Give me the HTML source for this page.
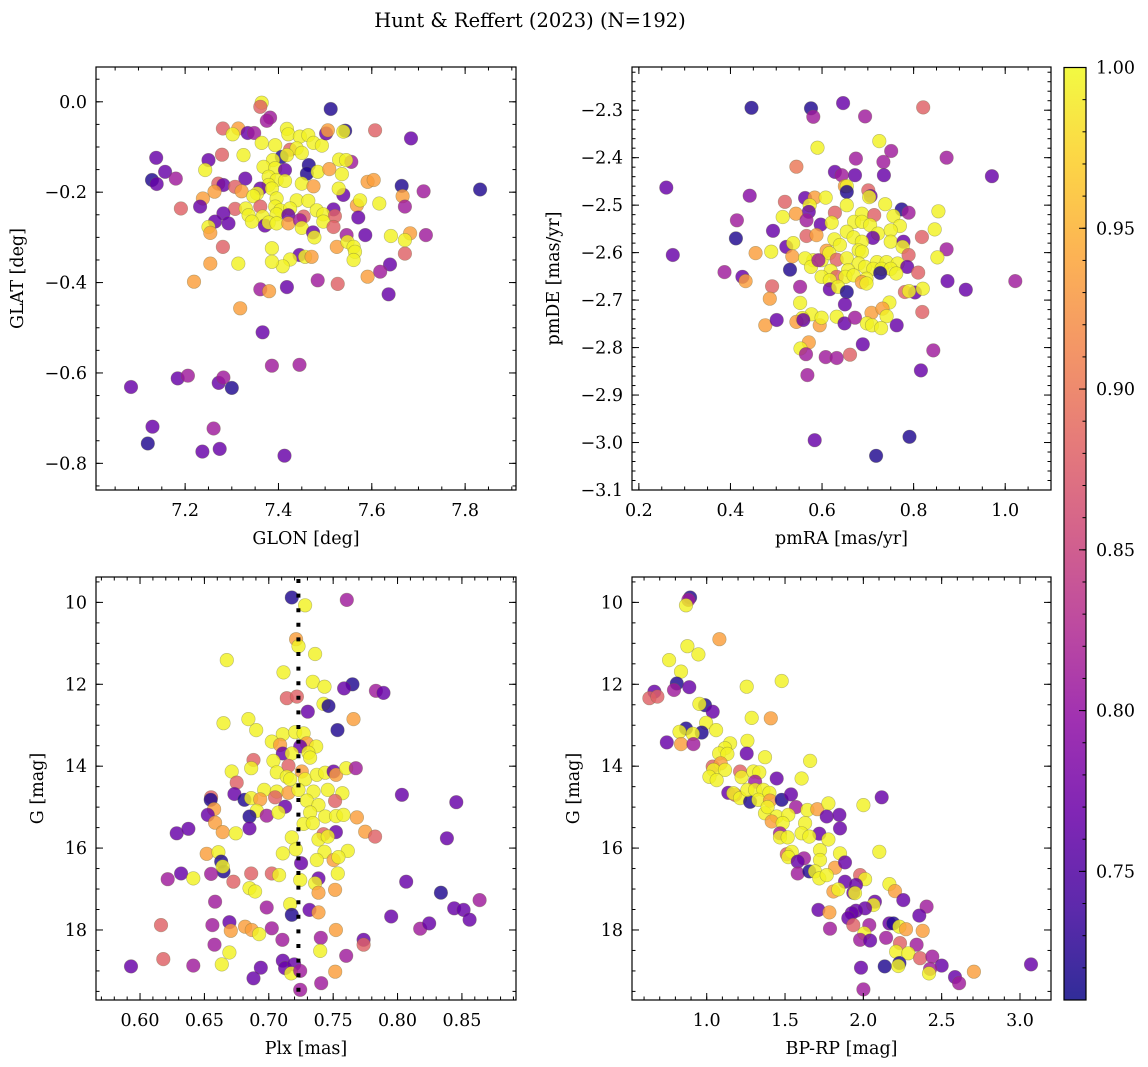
<!DOCTYPE html>
<html><head><meta charset="utf-8"><title>Hunt &amp; Reffert (2023)</title>
<style>
html,body{margin:0;padding:0;background:#fff;}
svg{display:block;font-family:"DejaVu Serif","Liberation Serif",serif;}
</style></head>
<body>
<svg id="fig" width="1148" height="1067" viewBox="0 0 1148 1067" xmlns="http://www.w3.org/2000/svg">
<defs>
<linearGradient id="plasmaGrad" x1="0" y1="1" x2="0" y2="0">
<stop offset="0" stop-color="#0d0887"/><stop offset="0.1" stop-color="#41049d"/><stop offset="0.2" stop-color="#6a00a8"/><stop offset="0.3" stop-color="#8f0da4"/><stop offset="0.4" stop-color="#b12a90"/><stop offset="0.5" stop-color="#cc4778"/><stop offset="0.6" stop-color="#e16462"/><stop offset="0.7" stop-color="#f2844b"/><stop offset="0.8" stop-color="#fca636"/><stop offset="0.9" stop-color="#fcce25"/><stop offset="1" stop-color="#f0f921"/>
</linearGradient>
</defs>
<text x="530" y="27" font-size="19.5" text-anchor="middle">Hunt &amp; Reffert (2023) (N=192)</text>
</svg>
<script>
// ---- data: [x, y, membership probability] ----
const skyPoints = [[7.364,-0.002,.995],[7.361,-0.011,.88],[7.512,-0.016,.72],[7.382,-0.035,.81],[7.375,-0.042,.81],[7.281,-0.059,.88],[7.314,-0.059,.935],[7.302,-0.072,.995],[7.334,-0.069,.765],[7.348,-0.069,.81],[7.418,-0.060,.995],[7.421,-0.072,.995],[7.446,-0.077,.995],[7.464,-0.074,.995],[7.475,-0.091,.995],[7.493,-0.097,.995],[7.502,-0.070,.765],[7.506,-0.063,.935],[7.543,-0.064,.72],[7.539,-0.066,.995],[7.607,-0.063,.88],[7.684,-0.081,.765],[7.364,-0.091,.995],[7.393,-0.096,.995],[7.425,-0.106,.88],[7.439,-0.103,.995],[7.450,-0.113,.995],[7.279,-0.117,.88],[7.325,-0.118,.995],[7.407,-0.122,.72],[7.418,-0.118,.995],[7.138,-0.124,.765],[7.250,-0.129,.765],[7.388,-0.129,.995],[7.530,-0.128,.995],[7.556,-0.133,.81],[7.545,-0.129,.995],[7.465,-0.140,.72],[7.157,-0.155,.765],[7.243,-0.151,.995],[7.368,-0.144,.995],[7.393,-0.147,.995],[7.414,-0.151,.765],[7.461,-0.159,.72],[7.484,-0.155,.995],[7.509,-0.149,.935],[7.536,-0.160,.995],[7.129,-0.173,.72],[7.139,-0.182,.765],[7.180,-0.170,.81],[7.271,-0.181,.88],[7.282,-0.184,.765],[7.329,-0.170,.765],[7.379,-0.166,.995],[7.396,-0.173,.995],[7.379,-0.184,.995],[7.414,-0.175,.995],[7.450,-0.181,.995],[7.475,-0.187,.935],[7.591,-0.177,.935],[7.604,-0.173,.935],[7.664,-0.186,.72],[7.711,-0.198,.81],[7.832,-0.194,.72],[7.307,-0.188,.88],[7.263,-0.199,.935],[7.321,-0.198,.935],[7.361,-0.192,.765],[7.386,-0.192,.995],[7.539,-0.206,.765],[7.529,-0.192,.995],[7.354,-0.203,.995],[7.346,-0.209,.995],[7.238,-0.214,.935],[7.396,-0.214,.995],[7.439,-0.218,.995],[7.464,-0.219,.995],[7.568,-0.229,.935],[7.575,-0.218,.995],[7.616,-0.225,.995],[7.666,-0.209,.935],[7.671,-0.232,.81],[7.191,-0.236,.88],[7.232,-0.232,.765],[7.307,-0.237,.88],[7.330,-0.236,.995],[7.336,-0.251,.995],[7.361,-0.232,.88],[7.393,-0.232,.995],[7.404,-0.240,.995],[7.425,-0.236,.995],[7.482,-0.240,.995],[7.518,-0.238,.765],[7.282,-0.247,.765],[7.366,-0.254,.995],[7.396,-0.249,.995],[7.421,-0.251,.765],[7.454,-0.254,.88],[7.496,-0.249,.995],[7.521,-0.253,.88],[7.571,-0.256,.765],[7.264,-0.265,.765],[7.293,-0.269,.765],[7.343,-0.265,.995],[7.371,-0.274,.765],[7.379,-0.267,.995],[7.396,-0.269,.995],[7.421,-0.269,.935],[7.446,-0.262,.81],[7.496,-0.265,.995],[7.518,-0.277,.88],[7.250,-0.277,.995],[7.254,-0.290,.935],[7.586,-0.295,.765],[7.641,-0.297,.995],[7.716,-0.295,.81],[7.450,-0.279,.995],[7.474,-0.289,.765],[7.477,-0.300,.995],[7.682,-0.291,.935],[7.671,-0.306,.995],[7.546,-0.295,.81],[7.281,-0.321,.88],[7.386,-0.324,.995],[7.525,-0.321,.935],[7.548,-0.310,.995],[7.561,-0.321,.995],[7.564,-0.332,.995],[7.671,-0.336,.88],[7.561,-0.350,.995],[7.445,-0.339,.765],[7.457,-0.343,.995],[7.471,-0.343,.935],[7.425,-0.349,.995],[7.409,-0.364,.995],[7.386,-0.354,.995],[7.314,-0.358,.995],[7.254,-0.358,.935],[7.639,-0.360,.765],[7.618,-0.376,.81],[7.219,-0.398,.935],[7.484,-0.395,.81],[7.527,-0.403,.88],[7.591,-0.387,.935],[7.636,-0.426,.765],[7.361,-0.415,.81],[7.380,-0.419,.935],[7.418,-0.410,.765],[7.318,-0.457,.935],[7.366,-0.510,.765],[7.386,-0.584,.81],[7.445,-0.582,.81],[7.084,-0.631,.765],[7.184,-0.612,.765],[7.206,-0.606,.81],[7.272,-0.622,.765],[7.282,-0.610,.81],[7.300,-0.633,.72],[7.130,-0.719,.765],[7.261,-0.723,.81],[7.120,-0.756,.72],[7.237,-0.774,.765],[7.274,-0.768,.765],[7.413,-0.783,.765]];
const pmPoints = [[0.446,-2.295,.72],[0.576,-2.296,.72],[0.581,-2.314,.81],[0.646,-2.285,.765],[0.694,-2.313,.81],[0.821,-2.294,.88],[0.590,-2.379,.995],[0.725,-2.365,.995],[0.751,-2.386,.81],[0.674,-2.402,.81],[0.734,-2.409,.81],[0.872,-2.400,.81],[0.544,-2.419,.9],[0.628,-2.430,.765],[0.643,-2.437,.81],[0.672,-2.437,.765],[0.735,-2.437,.765],[0.971,-2.439,.765],[0.260,-2.463,.765],[0.650,-2.460,.935],[0.654,-2.460,.995],[0.654,-2.472,.72],[0.701,-2.469,.88],[0.706,-2.481,.765],[0.703,-2.483,.995],[0.442,-2.480,.79],[0.563,-2.485,.765],[0.584,-2.484,.935],[0.608,-2.484,.995],[0.519,-2.493,.88],[0.573,-2.500,.995],[0.654,-2.500,.995],[0.738,-2.498,.995],[0.774,-2.509,.72],[0.789,-2.516,.81],[0.854,-2.513,.995],[0.571,-2.514,.765],[0.628,-2.516,.88],[0.687,-2.518,.995],[0.714,-2.521,.88],[0.414,-2.532,.81],[0.514,-2.525,.995],[0.543,-2.518,.935],[0.566,-2.532,.81],[0.597,-2.541,.765],[0.621,-2.537,.995],[0.670,-2.535,.995],[0.687,-2.535,.995],[0.705,-2.542,.995],[0.756,-2.523,.995],[0.770,-2.544,.995],[0.493,-2.554,.765],[0.722,-2.560,.995],[0.750,-2.553,.995],[0.846,-2.551,.995],[0.412,-2.570,.72],[0.566,-2.565,.88],[0.588,-2.563,.935],[0.627,-2.572,.995],[0.654,-2.556,.995],[0.669,-2.568,.995],[0.711,-2.569,.765],[0.818,-2.567,.88],[0.522,-2.588,.765],[0.537,-2.580,.995],[0.639,-2.584,.995],[0.687,-2.577,.995],[0.750,-2.577,.995],[0.778,-2.577,.765],[0.776,-2.588,.995],[0.680,-2.595,.995],[0.687,-2.598,.995],[0.872,-2.593,.81],[0.455,-2.601,.935],[0.489,-2.598,.995],[0.535,-2.608,.935],[0.581,-2.616,.995],[0.599,-2.616,.995],[0.610,-2.596,.935],[0.616,-2.601,.995],[0.632,-2.615,.88],[0.654,-2.612,.995],[0.789,-2.605,.88],[0.852,-2.610,.995],[0.563,-2.612,.995],[0.576,-2.630,.995],[0.592,-2.616,.81],[0.680,-2.623,.995],[0.694,-2.630,.995],[0.720,-2.620,.995],[0.741,-2.620,.995],[0.765,-2.623,.995],[0.387,-2.641,.81],[0.530,-2.636,.72],[0.619,-2.638,.995],[0.657,-2.637,.995],[0.712,-2.634,.995],[0.730,-2.634,.995],[0.750,-2.634,.995],[0.727,-2.643,.72],[0.786,-2.630,.765],[0.810,-2.642,.88],[0.426,-2.651,.765],[0.433,-2.660,.935],[0.599,-2.651,.995],[0.632,-2.651,.88],[0.617,-2.658,.995],[0.651,-2.651,.995],[0.669,-2.648,.995],[0.697,-2.655,.995],[0.762,-2.644,.995],[0.687,-2.662,.935],[0.697,-2.665,.995],[0.874,-2.660,.765],[1.022,-2.660,.81],[0.552,-2.672,.81],[0.491,-2.671,.88],[0.617,-2.677,.765],[0.635,-2.672,.995],[0.654,-2.683,.72],[0.781,-2.683,.88],[0.803,-2.684,.765],[0.790,-2.681,.995],[0.820,-2.676,.995],[0.914,-2.678,.765],[0.486,-2.697,.935],[0.552,-2.706,.995],[0.650,-2.709,.765],[0.747,-2.705,.995],[0.819,-2.725,.88],[0.708,-2.727,.935],[0.732,-2.718,.935],[0.741,-2.734,.995],[0.632,-2.735,.995],[0.577,-2.730,.995],[0.557,-2.738,.995],[0.476,-2.753,.935],[0.501,-2.742,.765],[0.544,-2.746,.935],[0.559,-2.742,.765],[0.595,-2.753,.935],[0.599,-2.737,.995],[0.649,-2.749,.765],[0.672,-2.737,.81],[0.698,-2.749,.995],[0.709,-2.753,.995],[0.729,-2.759,.995],[0.763,-2.753,.765],[0.571,-2.789,.935],[0.553,-2.802,.995],[0.565,-2.814,.81],[0.689,-2.793,.765],[0.608,-2.820,.81],[0.632,-2.822,.81],[0.661,-2.815,.88],[0.843,-2.806,.81],[0.816,-2.848,.765],[0.568,-2.858,.81],[0.584,-2.995,.765],[0.791,-2.988,.72],[0.718,-3.028,.72],[0.274,-2.605,.765]];
const plxPoints = [[0.7179,9.88,.72],[0.7606,9.94,.81],[0.7282,10.07,.995],[0.7212,10.90,.935],[0.7231,11.07,.995],[0.736,11.26,.995],[0.6674,11.41,.995],[0.7114,11.71,.995],[0.7342,11.94,.995],[0.7433,12.06,.995],[0.765,12.00,.72],[0.7585,12.10,.765],[0.7832,12.16,.81],[0.7891,12.21,.765],[0.714,12.34,.88],[0.7218,12.30,.88],[0.7425,12.48,.995],[0.7464,12.53,.72],[0.7303,12.67,.765],[0.7658,12.85,.935],[0.6648,12.95,.995],[0.6842,12.85,.995],[0.6902,13.12,.995],[0.7534,13.12,.72],[0.7109,13.22,.995],[0.7205,13.17,.995],[0.727,13.20,.995],[0.7023,13.40,.995],[0.7088,13.48,.935],[0.7295,13.44,.935],[0.7368,13.52,.995],[0.7244,13.52,.765],[0.7109,13.69,.765],[0.7179,13.69,.995],[0.7308,13.67,.995],[0.7321,13.79,.995],[0.6881,13.85,.88],[0.7036,13.87,.995],[0.7153,13.99,.88],[0.6863,14.05,.995],[0.6712,14.13,.995],[0.7062,14.15,.995],[0.714,14.26,.995],[0.7166,14.32,.995],[0.7256,14.13,.935],[0.7282,14.32,.995],[0.7373,14.21,.995],[0.7438,14.16,.995],[0.7503,14.13,.765],[0.7523,14.21,.935],[0.7601,14.05,.995],[0.7676,14.05,.81],[0.6751,14.40,.88],[0.6964,14.58,.995],[0.7062,14.62,.995],[0.7153,14.65,.935],[0.7231,14.58,.995],[0.7347,14.62,.995],[0.7458,14.58,.995],[0.7572,14.66,.995],[0.8034,14.70,.765],[0.6733,14.68,.765],[0.6552,14.76,.88],[0.6549,14.82,.72],[0.6811,14.82,.72],[0.6863,14.78,.995],[0.6933,14.81,.935],[0.7049,14.76,.88],[0.7295,14.84,.995],[0.7386,14.95,.995],[0.7515,14.85,.88],[0.8456,14.88,.765],[0.6575,15.05,.935],[0.7127,14.99,.765],[0.6907,15.09,.995],[0.6526,15.19,.765],[0.685,15.23,.72],[0.6984,15.21,.81],[0.7075,15.13,.995],[0.7321,15.13,.995],[0.7438,15.23,.995],[0.7523,15.22,.995],[0.758,15.19,.995],[0.7684,15.25,.935],[0.6583,15.38,.935],[0.727,15.41,.995],[0.7342,15.39,.995],[0.6285,15.64,.765],[0.6376,15.53,.765],[0.6642,15.61,.935],[0.6744,15.64,.995],[0.685,15.52,.765],[0.7425,15.66,.88],[0.7521,15.61,.765],[0.7749,15.60,.935],[0.7826,15.72,.88],[0.7179,15.74,.995],[0.7386,15.79,.995],[0.7458,15.72,.995],[0.8383,15.76,.765],[0.721,16.03,.995],[0.7109,16.13,.995],[0.7433,16.09,.995],[0.7614,16.07,.995],[0.6518,16.14,.935],[0.6609,16.10,.995],[0.7373,16.29,.995],[0.7503,16.29,.935],[0.7541,16.22,.995],[0.7251,16.37,.765],[0.663,16.33,.72],[0.6648,16.57,.72],[0.6642,16.45,.995],[0.6319,16.62,.765],[0.6215,16.76,.81],[0.6414,16.74,.995],[0.6552,16.63,.81],[0.6725,16.82,.88],[0.6863,16.62,.88],[0.7023,16.62,.88],[0.708,16.66,.995],[0.7244,16.78,.995],[0.7386,16.74,.765],[0.736,16.86,.995],[0.7536,16.62,.995],[0.8067,16.82,.765],[0.685,16.98,.995],[0.6894,17.06,.995],[0.7386,17.09,.935],[0.7515,17.02,.935],[0.8337,17.09,.72],[0.6583,17.31,.81],[0.8637,17.27,.81],[0.6984,17.45,.81],[0.7166,17.37,.995],[0.7179,17.63,.72],[0.7316,17.51,.765],[0.7386,17.57,.935],[0.844,17.47,.765],[0.8513,17.51,.765],[0.856,17.75,.765],[0.7951,17.67,.765],[0.6163,17.88,.88],[0.6562,17.88,.81],[0.6694,17.81,.765],[0.6705,18.02,.935],[0.6816,17.92,.935],[0.6868,18.00,.935],[0.6925,18.10,.995],[0.7023,17.96,.81],[0.7521,18.00,.935],[0.8176,17.97,.81],[0.8246,17.84,.765],[0.7106,18.24,.81],[0.7404,18.19,.81],[0.7736,18.24,.765],[0.7736,18.36,.88],[0.6578,18.36,.81],[0.6694,18.55,.995],[0.7399,18.51,.995],[0.7601,18.63,.81],[0.6181,18.71,.88],[0.6414,18.87,.81],[0.6635,18.84,.995],[0.593,18.89,.765],[0.6938,18.92,.765],[0.7109,18.75,.765],[0.7127,18.93,.765],[0.7197,18.84,.765],[0.7174,19.06,.995],[0.7244,19.00,.81],[0.7516,19.02,.935],[0.6881,19.18,.765],[0.7407,19.30,.81],[0.7244,19.46,.81]];
const cmdPoints = [[0.894,9.88,.72],[0.883,9.94,.81],[0.868,10.07,.995],[1.081,10.90,.935],[0.877,11.07,.995],[0.947,11.27,.995],[0.760,11.41,.995],[0.836,11.69,.995],[1.479,11.92,.995],[0.809,11.98,.72],[0.666,12.18,.765],[0.791,12.14,.81],[0.889,12.07,.765],[1.255,12.06,.995],[0.634,12.34,.88],[0.685,12.30,.88],[0.989,12.51,.72],[1.038,12.67,.765],[0.953,12.48,.995],[1.287,12.82,.995],[1.409,12.83,.935],[0.996,12.94,.995],[0.868,13.08,.72],[0.968,13.18,.72],[1.060,13.12,.995],[0.826,13.16,.995],[0.911,13.21,.995],[0.745,13.42,.765],[0.836,13.46,.935],[0.915,13.46,.81],[1.149,13.44,.995],[1.260,13.38,.995],[1.117,13.56,.995],[1.079,13.69,.995],[1.132,13.70,.995],[1.255,13.69,.765],[1.372,13.78,.995],[1.660,13.87,.995],[1.038,14.01,.88],[1.089,13.93,.935],[1.043,14.09,.995],[1.117,14.09,.995],[1.017,14.26,.995],[1.064,14.34,.995],[1.213,14.13,.88],[1.223,14.27,.995],[1.298,14.13,.995],[1.336,14.15,.995],[1.309,14.38,.81],[1.447,14.30,.765],[1.606,14.30,.995],[1.138,14.65,.765],[1.181,14.70,.88],[1.170,14.66,.995],[1.213,14.78,.995],[1.277,14.87,.72],[1.260,14.58,.995],[1.309,14.58,.995],[1.362,14.58,.995],[1.330,14.82,.995],[1.400,14.65,.995],[1.404,14.84,.935],[1.479,14.82,.72],[1.538,14.69,.765],[1.570,15.00,.81],[1.643,15.07,.995],[1.706,15.05,.935],[1.777,14.91,.995],[2.117,14.76,.765],[2.000,14.95,.995],[1.372,15.15,.995],[1.389,15.00,.995],[1.447,15.23,.995],[1.521,15.19,.995],[1.766,15.23,.765],[1.847,15.19,.765],[1.415,15.35,.935],[1.485,15.39,.995],[1.851,15.52,.765],[1.628,15.39,.995],[1.468,15.64,.81],[1.606,15.64,.995],[1.719,15.65,.765],[1.655,15.72,.995],[1.468,15.74,.995],[1.517,15.74,.995],[1.777,15.79,.995],[1.511,16.15,.88],[1.543,16.09,.995],[1.521,16.22,.995],[1.723,16.05,.995],[1.851,16.13,.995],[2.102,16.09,.995],[1.621,16.25,.81],[1.581,16.33,.765],[1.581,16.62,.81],[1.655,16.57,.72],[1.723,16.29,.995],[1.819,16.48,.935],[1.883,16.35,.765],[1.691,16.57,.995],[1.719,16.74,.995],[1.766,16.66,.995],[1.883,16.82,.765],[1.979,16.66,.88],[2.011,16.76,.995],[1.953,16.90,.765],[1.809,17.06,.935],[1.840,17.01,.995],[1.936,17.09,.765],[1.947,17.10,.995],[2.166,16.88,.995],[2.202,17.05,.935],[2.255,17.27,.765],[2.074,17.31,.765],[2.064,17.39,.995],[2.404,17.43,.81],[1.713,17.51,.765],[1.783,17.57,.935],[2.011,17.47,.765],[1.953,17.53,.765],[1.926,17.59,.765],[1.904,17.71,.765],[2.357,17.65,.765],[1.936,17.88,.88],[2.038,17.88,.81],[2.166,17.84,.765],[2.191,17.84,.72],[2.230,17.92,.995],[2.272,17.98,.935],[2.379,18.02,.935],[1.787,17.97,.81],[2.006,18.08,.995],[2.145,18.19,.81],[1.979,18.24,.81],[2.043,18.26,.765],[2.234,18.32,.88],[2.340,18.36,.81],[2.209,18.53,.995],[2.287,18.57,.995],[2.362,18.69,.88],[2.440,18.65,.81],[2.230,18.81,.72],[2.223,18.88,.995],[1.985,18.92,.765],[2.136,18.89,.72],[2.500,18.87,.765],[3.070,18.84,.765],[2.426,18.95,.81],[2.419,19.06,.995],[2.706,19.02,.935],[2.585,19.15,.765],[2.611,19.30,.81],[2.000,19.45,.81]];
const plxMedian = 0.723;
const cbarTicks = [0.75,0.80,0.85,0.90,0.95,1.00];
const cbarRange = [0.71, 1.0];

const NS = 'http://www.w3.org/2000/svg';
const svg = document.getElementById('fig');
const plasma = ['#0d0887','#41049d','#6a00a8','#8f0da4','#b12a90','#cc4778','#e16462','#f2844b','#fca636','#fcce25','#f0f921'];
function hex(c){return [parseInt(c.substr(1,2),16),parseInt(c.substr(3,2),16),parseInt(c.substr(5,2),16)];}
function cmap(v){
  let t=(v-cbarRange[0])/(cbarRange[1]-cbarRange[0]); t=Math.max(0,Math.min(1,t));
  const f=t*10, i=Math.min(9,Math.floor(f)), r=f-i;
  const a=hex(plasma[i]), b=hex(plasma[i+1]);
  return 'rgb('+a.map((x,k)=>Math.round(x+(b[k]-x)*r)).join(',')+')';
}
function el(tag, attrs, parent){
  const e=document.createElementNS(NS,tag);
  for(const k in attrs) e.setAttribute(k,attrs[k]);
  (parent||svg).appendChild(e); return e;
}
function fmt(v,dec){const s=Math.abs(v).toFixed(dec); return (v<0?'\u2212':'')+s;}
const FS = 17.5;

function panel(cfg){
  const g=el('g',{});
  
  
  const {x0,x1,y0,y1}=cfg.box;
  const sx=v=>x0+(v-cfg.xd[0])/(cfg.xd[1]-cfg.xd[0])*(x1-x0);
  const sy=v=>y1-(v-cfg.yd[0])/(cfg.yd[1]-cfg.yd[0])*(y1-y0);
  const clip='clip-'+cfg.name;
  const cp=el('clipPath',{id:clip},g); el('rect',{x:x0,y:y0,width:x1-x0,height:y1-y0},cp);
  const pg=el('g',{'clip-path':'url(#'+clip+')'},g);
  cfg.points.forEach(p=>{
    const c=el('circle',{cx:sx(p[0]).toFixed(1),cy:sy(p[1]).toFixed(1),r:6.8,fill:cmap(p[2]),'fill-opacity':0.82,stroke:'#6b6b40','stroke-opacity':0.45,'stroke-width':0.6},pg);
    
    
  });
  if(cfg.vline!==undefined){
    const l=el('line',{x1:sx(cfg.vline),x2:sx(cfg.vline),y1:y0+2,y2:y1,stroke:'#000','stroke-width':4,'stroke-dasharray':'4 10.6'},pg);
    
    
  }
  const tk=el('g',{stroke:'#000','stroke-width':1},g);
  function ticks(lo,hi,step){const a=Math.min(lo,hi),b=Math.max(lo,hi),out=[];for(let k=Math.ceil(a/step-1e-6);k<=Math.floor(b/step+1e-6);k++)out.push(k*step);return out;}
  ticks(cfg.xd[0],cfg.xd[1],cfg.xMinor).forEach(v=>{const x=sx(v);el('line',{x1:x,x2:x,y1:y1,y2:y1-3.5},tk);el('line',{x1:x,x2:x,y1:y0,y2:y0+3.5},tk);});
  ticks(cfg.yd[0],cfg.yd[1],cfg.yMinor).forEach(v=>{const y=sy(v);el('line',{x1:x0,x2:x0+3.5,y1:y,y2:y},tk);el('line',{x1:x1,x2:x1-3.5,y1:y,y2:y},tk);});
  ticks(cfg.xd[0],cfg.xd[1],cfg.xMajor).forEach(v=>{const x=sx(v);el('line',{x1:x,x2:x,y1:y1,y2:y1-7},tk);el('line',{x1:x,x2:x,y1:y0,y2:y0+7},tk);
    const t=el('text',{x:x,y:y1+26,'font-size':FS,'text-anchor':'middle'},g);t.textContent=fmt(v,cfg.xDec);
    
    });
  ticks(cfg.yd[0],cfg.yd[1],cfg.yMajor).forEach(v=>{const y=sy(v);el('line',{x1:x0,x2:x0+7,y1:y,y2:y},tk);el('line',{x1:x1,x2:x1-7,y1:y,y2:y},tk);
    const t=el('text',{x:x0-9,y:y+6,'font-size':FS,'text-anchor':'end'},g);t.textContent=fmt(v,cfg.yDec);
    
    });
  const fr=el('rect',{x:x0,y:y0,width:x1-x0,height:y1-y0,fill:'none',stroke:'#000','stroke-width':1.2},g);
  
  
  const xl=el('text',{x:(x0+x1)/2,y:y1+54,'font-size':FS,'text-anchor':'middle'},g);xl.textContent=cfg.xLabel;
  
  
  const yl=el('text',{x:0,y:0,'font-size':FS,'text-anchor':'middle',transform:'translate('+cfg.yLabelX+','+(y0+y1)/2+') rotate(-90)'},g);yl.textContent=cfg.yLabel;
  
  
}

panel({name:'glon-glat-panel',box:{x0:96,x1:516,y0:67,y1:490},xd:[7.009,7.909],yd:[-0.859,0.077],points:skyPoints,xMajor:0.2,xMinor:0.05,yMajor:0.2,yMinor:0.05,xDec:1,yDec:1,xLabel:'GLON [deg]',yLabel:'GLAT [deg]',yLabelX:23});
panel({name:'proper-motion-panel',box:{x0:632,x1:1051,y0:67,y1:490},xd:[0.185,1.1],yd:[-3.1,-2.209],points:pmPoints,xMajor:0.2,xMinor:0.05,yMajor:0.1,yMinor:0.02,xDec:1,yDec:1,xLabel:'pmRA [mas/yr]',yLabel:'pmDE [mas/yr]',yLabelX:559});
panel({name:'parallax-panel',box:{x0:96,x1:516,y0:577,y1:1000},xd:[0.5658,0.892],yd:[19.71,9.38],points:plxPoints,vline:plxMedian,xMajor:0.05,xMinor:0.01,yMajor:2,yMinor:0.5,xDec:2,yDec:0,xLabel:'Plx [mas]',yLabel:'G [mag]',yLabelX:43});
panel({name:'cmd-panel',box:{x0:632,x1:1051,y0:577,y1:1000},xd:[0.523,3.198],yd:[19.71,9.38],points:cmdPoints,xMajor:0.5,xMinor:0.1,yMajor:2,yMinor:0.5,xDec:1,yDec:0,xLabel:'BP-RP [mag]',yLabel:'G [mag]',yLabelX:579});

// colorbar
(function(){
  const x0=1064,x1=1086,y0=67.5,y1=1000;
  const g=el('g',{});
  
  
  el('rect',{x:x0,y:y0,width:x1-x0,height:y1-y0,fill:'url(#plasmaGrad)','fill-opacity':0.85},g);
  const sy=v=>y1-(v-cbarRange[0])/(cbarRange[1]-cbarRange[0])*(y1-y0);
  for(let k=72;k<=100;k++){const y=sy(k/100);el('line',{x1:x1,x2:x1-3.5,y1:y,y2:y,stroke:'#000','stroke-width':1},g);}
  cbarTicks.forEach(v=>{const y=sy(v);el('line',{x1:x1,x2:x1-7,y1:y,y2:y,stroke:'#000','stroke-width':1},g);
    const t=el('text',{x:x1+10,y:y+6,'font-size':FS},g);t.textContent=v.toFixed(2);
    
    });
  el('rect',{x:x0,y:y0,width:x1-x0,height:y1-y0,fill:'none',stroke:'#000','stroke-width':1.2},g);
})();
</script>
</body></html>
